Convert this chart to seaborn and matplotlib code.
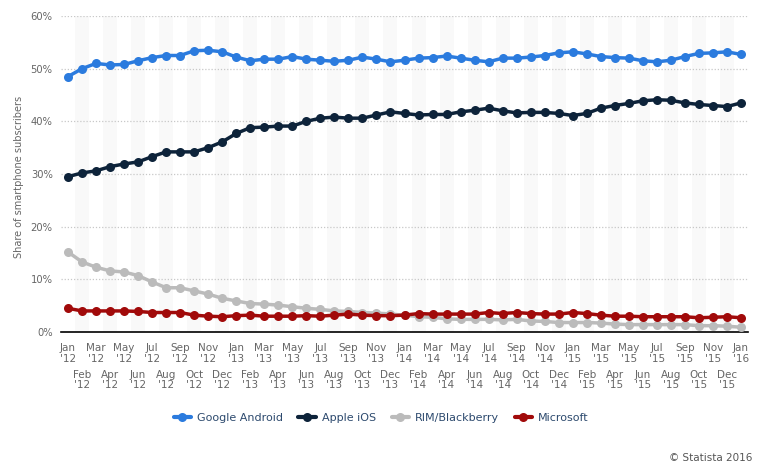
import numpy as np
import pandas as pd
import matplotlib
matplotlib.use("Agg")
import matplotlib.pyplot as plt
from matplotlib.lines import Line2D
import seaborn as sns

months = ["Jan", "Feb", "Mar", "Apr", "May", "Jun", "Jul", "Aug", "Sep", "Oct", "Nov", "Dec"]
years = ["'12", "'13", "'14", "'15", "'16"]
categories = [f"{m}\n{y}" for y in years[:4] for m in months] + ["Jan\n'16"]

android = [48.5, 50.0, 51.0, 50.7, 50.8, 51.5, 52.1, 52.5, 52.5, 53.4, 53.5, 53.2,
           52.2, 51.5, 51.8, 51.8, 52.3, 51.8, 51.6, 51.4, 51.6, 52.2, 51.8, 51.3,
           51.6, 52.0, 52.1, 52.4, 52.0, 51.6, 51.3, 52.0, 52.0, 52.2, 52.5, 53.0,
           53.2, 52.8, 52.3, 52.1, 52.0, 51.5, 51.3, 51.6, 52.3, 52.9, 53.0, 53.2,
           52.7]
ios = [29.5, 30.2, 30.6, 31.4, 31.9, 32.3, 33.3, 34.2, 34.2, 34.2, 35.0, 36.1,
       37.7, 38.8, 38.9, 39.1, 39.1, 40.0, 40.6, 40.8, 40.6, 40.6, 41.2, 41.8,
       41.5, 41.2, 41.3, 41.3, 41.8, 42.1, 42.5, 42.0, 41.6, 41.7, 41.7, 41.5,
       41.1, 41.5, 42.5, 43.0, 43.4, 43.9, 44.1, 44.0, 43.5, 43.2, 43.0, 42.8,
       43.5]
blackberry = [15.2, 13.3, 12.3, 11.6, 11.4, 10.7, 9.5, 8.4, 8.4, 7.8, 7.2, 6.4,
              5.9, 5.4, 5.3, 5.1, 4.8, 4.5, 4.3, 4.0, 3.9, 3.7, 3.6, 3.4,
              3.2, 2.9, 2.8, 2.5, 2.4, 2.4, 2.4, 2.3, 2.4, 2.1, 2.0, 1.8,
              1.8, 1.8, 1.7, 1.5, 1.4, 1.4, 1.4, 1.4, 1.4, 1.2, 1.2, 1.1,
              0.9]
microsoft = [4.5, 4.0, 4.0, 4.0, 4.0, 3.9, 3.7, 3.7, 3.7, 3.2, 3.0, 2.9,
             3.1, 3.2, 3.0, 3.0, 3.0, 3.1, 3.0, 3.2, 3.4, 3.2, 3.1, 3.1,
             3.2, 3.5, 3.4, 3.4, 3.4, 3.4, 3.7, 3.5, 3.7, 3.5, 3.4, 3.4,
             3.7, 3.5, 3.2, 3.0, 3.0, 2.9, 2.9, 2.9, 2.9, 2.7, 2.8, 2.9,
             2.7]
series_names = ["Google Android", "Apple iOS", "RIM/Blackberry", "Microsoft"]
colors = ["#2b7bde", "#0d233a", "#bbbbbb", "#a10a0a"]
yticks = [0, 10, 20, 30, 40, 50, 60]

sns.set_theme(style="white")
plt.rcParams["font.family"] = ["DejaVu Sans"]

n = len(categories)
x = np.arange(n)
df = pd.DataFrame({
    "x": np.tile(x, 4),
    "value": android + ios + blackberry + microsoft,
    "series": np.repeat(series_names, n),
})

fig = plt.figure(figsize=(7.63, 4.69), dpi=100)
ax = fig.add_axes([61 / 763, 1 - 332 / 469, (748 - 61) / 763, (332 - 16) / 469])

# alternating light bands
for i in range(1, n, 2):
    ax.axvspan(i - 0.5, i + 0.5, color="#f9f9f9", zorder=0, lw=0)

# gridlines
for t in yticks[1:]:
    ax.axhline(t, color="#c8c8c8", lw=0.9, ls=(0, (1, 1.5)), zorder=1)

sns.lineplot(data=df, x="x", y="value", hue="series", hue_order=series_names,
             palette=colors, marker="o", markersize=6.5, markeredgewidth=0,
             linewidth=2.5, legend=False, ax=ax, zorder=3)

ax.set_xlim(-0.5, n - 0.5)
ax.set_ylim(0, 60)
ax.set_yticks(yticks)
ax.set_yticklabels([f"{t}%" for t in yticks], fontsize=7.2, color="#666666")
ax.tick_params(axis="y", length=0, pad=6)

ax.set_xticks(x[0::2])
ax.set_xticklabels(categories[0::2], fontsize=7.5, color="#666666", linespacing=1.05)
ax.set_xticks(x[1::2], minor=True)
ax.set_xticklabels(categories[1::2], minor=True, fontsize=7.5, color="#666666", linespacing=1.05)
ax.tick_params(axis="x", which="major", length=0, pad=8)
ax.tick_params(axis="x", which="minor", length=0, pad=27)

for s in ["top", "right", "left"]:
    ax.spines[s].set_visible(False)
ax.spines["bottom"].set_color("#000000")
ax.spines["bottom"].set_linewidth(1.2)
ax.set_xlabel("")
ax.set_ylabel("Share of smartphone subscribers", fontsize=7, color="#666666", labelpad=8)
ax.yaxis.set_label_coords(-0.054, 0.49)

handles = [Line2D([0], [0], color=c, lw=3, marker="o", markersize=6.5, markeredgewidth=0)
           for c in colors]
leg = fig.legend(handles, series_names, loc="center", bbox_to_anchor=(0.4994, 0.109),
                 ncol=4, frameon=False, fontsize=8, handlelength=1.6, handletextpad=0.5,
                 columnspacing=1.4)
for t in leg.get_texts():
    t.set_color("#2d4a6e")

fig.text(752 / 763, 1 - 458 / 469, "© Statista 2016", ha="right", va="center",
         fontsize=7.5, color="#555555")

fig.savefig("out.png", dpi=100)
